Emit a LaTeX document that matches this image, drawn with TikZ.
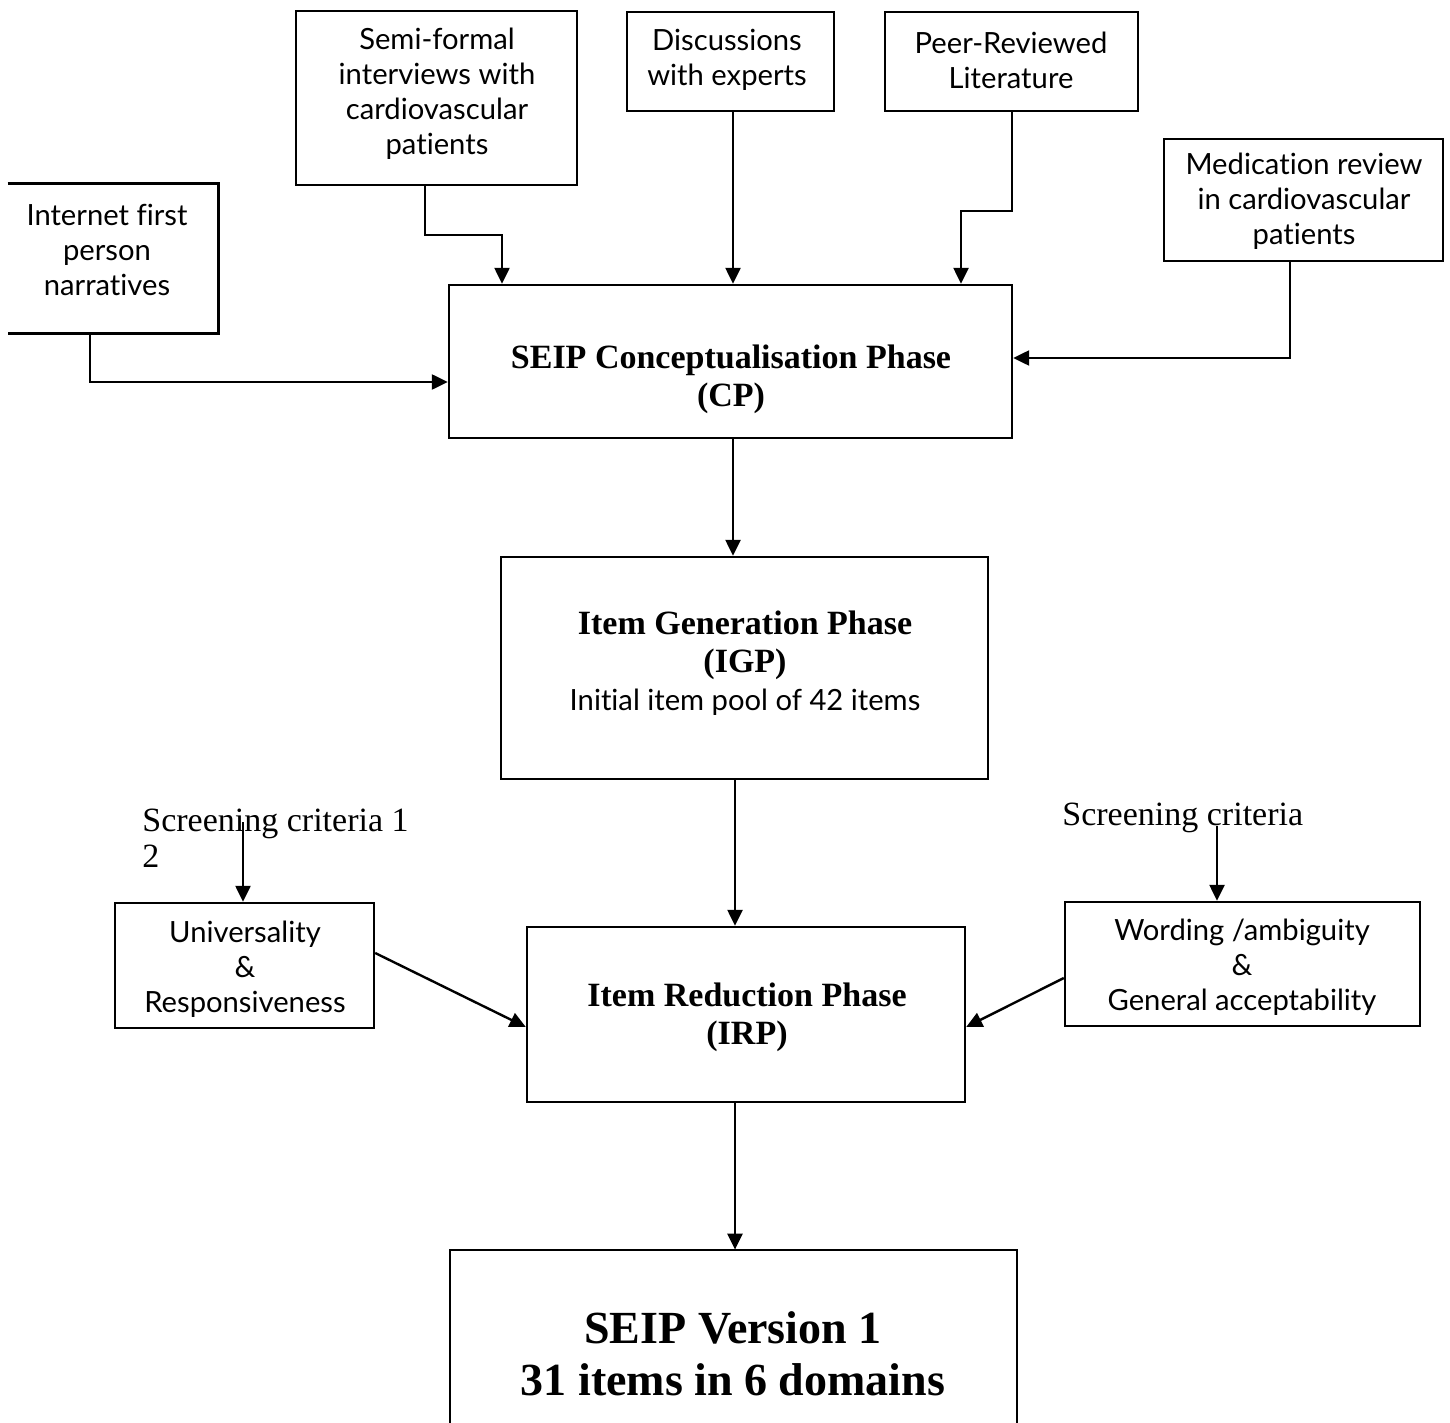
\documentclass[tikz,border=0pt]{standalone}
\usepackage{fontspec}
\setmainfont{Liberation Serif}
\newfontfamily\boxfont[Ligatures=NoCommon]{Lato}
\usetikzlibrary{arrows.meta}
\tikzset{
  box/.style={draw, line width=1.2pt, inner sep=0pt},
  frame/.style={inner sep=0pt},
  edge/.style={line width=1.2pt},
  sanstxt/.style={align=center, font=\boxfont\fontsize{14.6}{17.5}\selectfont, inner sep=0pt},
  phasetxt/.style={align=center, font=\bfseries\fontsize{17}{19}\selectfont, inner sep=0pt},
  crit/.style={align=left, font=\fontsize{17}{18}\selectfont, inner sep=0pt, anchor=west},
  arr/.style={edge, -{Triangle[length=8pt,width=7.5pt]}}
}
\begin{document}
\begin{tikzpicture}[x=0.5pt,y=-0.5pt]
\useasboundingbox (0,0) rectangle (1450,1423);
% boxes
\node[frame, minimum width=105pt, minimum height=74.5pt] (net) at (113,258.5) {};
\draw[edge] (net.north west) -- (net.north east) -- (net.south east) -- (net.south west);
\node[box, minimum width=140.5pt, minimum height=87pt] (semi) at (436.5,98) {};
\node[box, minimum width=103.5pt, minimum height=49.5pt] (disc) at (730.5,61.5) {};
\node[box, minimum width=126.5pt, minimum height=49.5pt] (peer) at (1011.5,61.5) {};
\node[box, minimum width=139.5pt, minimum height=61pt] (med) at (1303.5,200) {};
\node[box, minimum width=281.5pt, minimum height=76.5pt] (cp) at (730.5,361.5) {};
\node[box, minimum width=243.5pt, minimum height=111pt] (igp) at (744.5,668) {};
\node[box, minimum width=219pt, minimum height=87.5pt] (irp) at (746,1014.5) {};
\node[box, minimum width=129.5pt, minimum height=62.5pt] (univ) at (244.5,965.5) {};
\node[box, minimum width=177.5pt, minimum height=62pt] (word) at (1242.5,964) {};
\node[frame, minimum width=283.5pt, minimum height=104pt] (v1) at (733.5,1354) {};
\draw[edge] (450,1430) -- (450,1250) -- (1017,1250) -- (1017,1430);
% texts
\node[sanstxt] (netT) at (107,250) {Internet first\\person\\narratives};
\node[sanstxt] (semiT) at (437,94) {Semi-formal\\interviews with\\cardiovascular\\patients};
\node[sanstxt] (discT) at (727,60) {Discussions\\with experts};
\node[sanstxt] (peerT) at (1011,60) {Peer-Reviewed\\Literature};
\node[sanstxt] (medT) at (1304,201) {Medication review\\in cardiovascular\\patients};
\node[sanstxt] (univT) at (245,969) {Universality\\\&\\Responsiveness};
\node[sanstxt] (wordT) at (1242,967) {Wording /ambiguity\\\&\\General acceptability};
\node[phasetxt] (cpT) at (731,379) {SEIP Conceptualisation Phase\\(CP)};
\node[phasetxt] (igpT) at (745,663) {Item Generation Phase\\(IGP)\\{\boxfont\mdseries\fontsize{14.6}{17.5}\selectfont Initial item pool of 42 items}};
\node[phasetxt] (irpT) at (747,1017) {Item Reduction Phase\\(IRP)};
\node[align=center, font=\bfseries\fontsize{23}{26}\selectfont, inner sep=0pt] (v1T) at (733,1354) {SEIP Version 1\\31 items in 6 domains};
\node[crit] (critL) at (142,838) {Screening criteria 1\\2};
\node[crit] (critR) at (1062,818) {Screening criteria};
% connectors
\draw[arr] (net.south -| 90,0) -- (90,382) -- (cp.west |- 0,382);
\draw[arr] (semi.south -| 425,0) -- (425,235) -- (502,235) -- (cp.north -| 502,0);
\draw[arr] (disc.south -| 733,0) -- (cp.north -| 733,0);
\draw[arr] (peer.south -| 1012,0) -- (1012,211) -- (961,211) -- (cp.north -| 961,0);
\draw[arr] (med.south -| 1290,0) -- (1290,358) -- (cp.east |- 0,358);
\draw[arr] (cp.south -| 733,0) -- (igp.north -| 733,0);
\draw[arr] (igp.south -| 735,0) -- (irp.north -| 735,0);
\draw[arr] (irp.south -| 735,0) -- (v1.north -| 735,0);
\coordinate (cL) at (243,822);
\coordinate (cR) at (1217,826);
\draw[arr] (cL) -- (univ.north -| cL);
\draw[arr] (cR) -- (word.north -| cR);
\draw[arr] (univ.east |- 0,953) -- (irp.west |- 0,1027);
\draw[arr] (word.west |- 0,978) -- (irp.east |- 0,1027);
\end{tikzpicture}
\end{document}
